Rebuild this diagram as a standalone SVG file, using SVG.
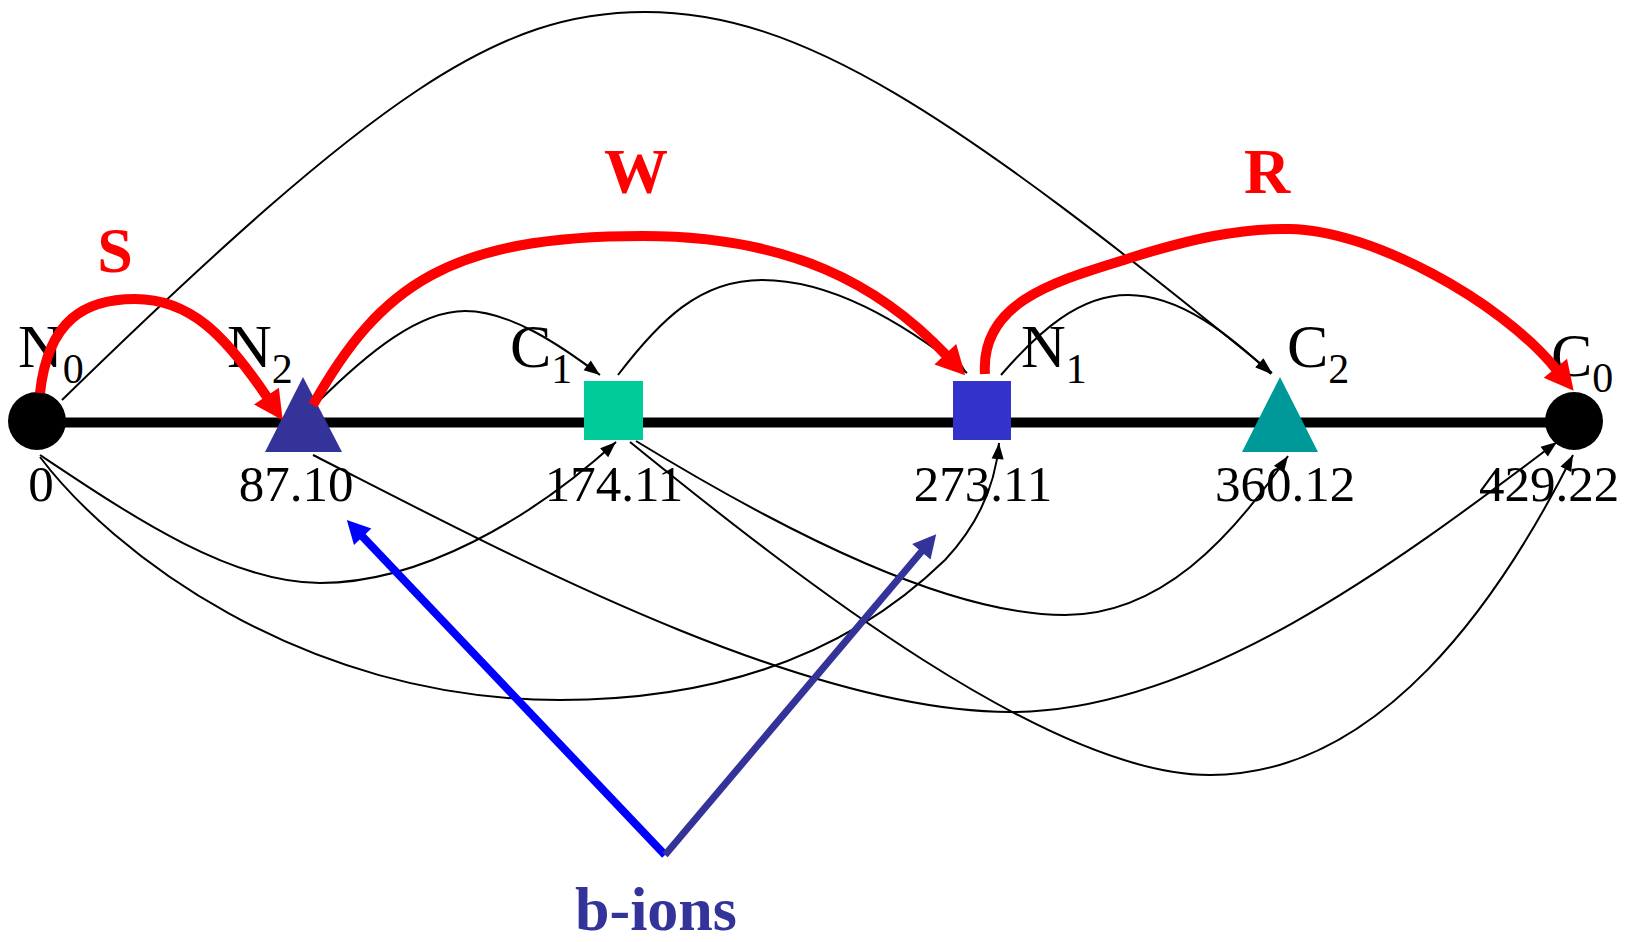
<svg xmlns="http://www.w3.org/2000/svg" width="1625" height="942" viewBox="0 0 1625 942">
<style>
.lbl{font-family:"Liberation Serif","Times New Roman",serif;font-size:62px;fill:#000}
.sub{font-size:42px}
.val{font-family:"Liberation Serif","Times New Roman",serif;font-size:51px;fill:#000;text-anchor:middle}
.aa{font-family:"Liberation Serif","Times New Roman",serif;font-size:64px;font-weight:bold;fill:#FF0000;text-anchor:middle}
.thin{fill:none;stroke:#000;stroke-width:2;marker-end:url(#ah)}
.red{fill:none;stroke:#FF0000;stroke-width:10;marker-end:url(#rh)}
</style>
<defs>
<marker id="ah" markerUnits="userSpaceOnUse" markerWidth="17" markerHeight="12" refX="16" refY="6" orient="auto" overflow="visible">
<path d="M0,0 L16,6 L0,12 z" fill="#000"/>
</marker>
<marker id="rh" markerUnits="userSpaceOnUse" markerWidth="30" markerHeight="30" refX="1" refY="15" orient="auto" overflow="visible">
<path d="M0,0 L29,15 L0,30 z" fill="#FF0000"/>
</marker>
<marker id="bh" markerUnits="userSpaceOnUse" markerWidth="24" markerHeight="24" refX="1" refY="12" orient="auto" overflow="visible">
<path d="M0,0 L23,12 L0,24 z" fill="#0000FF"/>
</marker>
<marker id="dh" markerUnits="userSpaceOnUse" markerWidth="24" markerHeight="24" refX="1" refY="12" orient="auto" overflow="visible">
<path d="M0,0 L23,12 L0,24 z" fill="#333399"/>
</marker>
</defs>
<rect width="1625" height="942" fill="#fff"/>
<line id="axis" x1="37" y1="422.5" x2="1574" y2="422.5" stroke="#000" stroke-width="10"/>
<g id="node-N0"><circle cx="37" cy="421" r="29" fill="#000"/><text class="lbl" x="18" y="367">N<tspan class="sub" dy="16">0</tspan></text><text class="val" x="41" y="501">0</text></g>
<g id="node-N2"><polygon points="303,377 265,452 342,452" fill="#333399"/><text class="lbl" x="227" y="367">N<tspan class="sub" dy="16">2</tspan></text><text class="val" x="296" y="501">87.10</text></g>
<g id="node-C1"><rect x="584" y="381" width="59" height="59" fill="#00CC99"/><text class="lbl" x="510" y="367">C<tspan class="sub" dy="16">1</tspan></text><text class="val" x="614" y="501">174.11</text></g>
<g id="node-N1"><rect x="953" y="381" width="58" height="59" fill="#3333CC"/><text class="lbl" x="1021" y="367">N<tspan class="sub" dy="16">1</tspan></text><text class="val" x="983" y="501">273.11</text></g>
<g id="node-C2"><polygon points="1280,377 1242,452 1318,452" fill="#009999"/><text class="lbl" x="1287" y="367">C<tspan class="sub" dy="16">2</tspan></text><text class="val" x="1285" y="501">360.12</text></g>
<g id="node-C0"><circle cx="1574" cy="421" r="29" fill="#000"/><text class="lbl" x="1551" y="376">C<tspan class="sub" dy="16">0</tspan></text><text class="val" x="1549" y="501">429.22</text></g>
<g id="connectors">
<path class="thin" d="M62,400 C380,90 500,12 645,12 C800,12 950,110 1272,373"/>
<path class="thin" d="M315,405 C370,350 420,311 465,311 C510,311 560,345 600,375"/>
<path class="thin" d="M618,375 C660,320 700,280 762,280 C830,280 900,320 967,373"/>
<path class="thin" d="M1001,375 C1040,330 1080,295 1128,295 C1180,295 1230,335 1271,374"/>
<path class="thin" d="M40,455 C130,515 230,583 320,583 C420,583 530,520 616,442"/>
<path class="thin" d="M40,457 C110,550 300,700 560,700 C760,700 875,628 945,560 C975,528 995,490 999,443"/>
<path class="thin" d="M313,455 C500,550 800,712 1010,712 C1200,712 1400,560 1557,442"/>
<path class="thin" d="M636,441 C790,535 950,615 1065,615 C1160,615 1230,540 1288,456"/>
<path class="thin" d="M630,442 C800,580 1050,775 1210,775 C1380,775 1500,600 1573,455"/>
<path class="red" d="M40,393 C48,320 85,299 135,299 C190,299 225,335 267,397"/>
<path class="red" d="M313,405 C380,285 450,236 643,236 C790,236 880,285 946,355"/>
<path class="red" d="M985,374 C980,300 1060,280 1130,258 C1190,239 1240,228 1290,229 C1370,230 1500,300 1556,369"/>
<path d="M665,855 L362,536" fill="none" stroke="#0000FF" stroke-width="8" marker-end="url(#bh)"/>
<path d="M665,855 L922,551" fill="none" stroke="#333399" stroke-width="7" marker-end="url(#dh)"/>
</g>
<text class="aa" x="115" y="272">S</text>
<text class="aa" x="636" y="193">W</text>
<text class="aa" x="1267" y="193">R</text>
<text x="656" y="930" font-family="Liberation Serif, Times New Roman, serif" font-size="62" font-weight="bold" fill="#333399" text-anchor="middle">b-ions</text>
</svg>
